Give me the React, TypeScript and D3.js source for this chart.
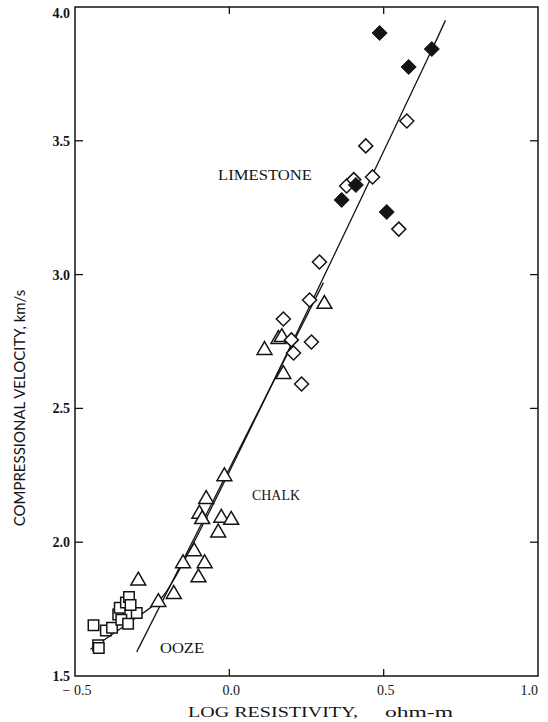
import { useRef, useEffect } from "react";
import * as d3 from "d3";

// ooze samples (open squares)
const oozeSquares: [number, number][] = [
  [-0.44, 1.69], [-0.425, 1.615], [-0.423, 1.605], [-0.40, 1.67], [-0.38, 1.68],
  [-0.36, 1.73], [-0.355, 1.755], [-0.35, 1.71], [-0.335, 1.775], [-0.325, 1.795],
  [-0.328, 1.695], [-0.30, 1.735], [-0.32, 1.765],
];

// chalk samples (open triangles)
const chalkTriangles: [number, number][] = [
  [-0.016, 2.25], [-0.075, 2.165], [-0.097, 2.11], [-0.088, 2.09], [-0.026, 2.095],
  [0.006, 2.087], [-0.036, 2.04], [-0.114, 1.97], [-0.15, 1.925], [-0.08, 1.925],
  [-0.10, 1.872], [-0.18, 1.81], [-0.23, 1.78], [-0.295, 1.86],
  [0.159, 2.763], [0.17, 2.77], [0.114, 2.722], [0.175, 2.632], [0.308, 2.894],
];

// limestone samples (open diamonds)
const limestoneOpen: [number, number][] = [
  [0.575, 3.574], [0.442, 3.481], [0.464, 3.365], [0.38, 3.331], [0.403, 3.355],
  [0.549, 3.17], [0.292, 3.047], [0.26, 2.905], [0.175, 2.834], [0.266, 2.748],
  [0.201, 2.756], [0.208, 2.707], [0.234, 2.591],
];

// limestone samples (filled diamonds)
const limestoneFilled: [number, number][] = [
  [0.487, 3.903], [0.656, 3.843], [0.581, 3.776], [0.364, 3.279], [0.41, 3.335], [0.51, 3.234],
];

// fitted trends
const chalkLine: [number, number][] = [[-0.30, 1.59], [0.305, 2.97]];
const overallLine: [number, number][] = [
  [-0.45, 1.60], [-0.33, 1.695], [-0.23, 1.78], [-0.18, 1.86], [0.656, 3.84], [0.70, 3.95],
];

const xTicks = [-0.5, 0.0, 0.5, 1.0];
const yTicks = [1.5, 2.0, 2.5, 3.0, 3.5, 4.0];

export default function App() {
  const ref = useRef<SVGSVGElement>(null);

  useEffect(() => {
    const width = 548;
    const height = 722;
    const ink = "#141414";

    const svg = d3.select(ref.current);
    svg.selectAll("*").remove();
    svg.attr("width", width).attr("height", height);

    const x = d3.scaleLinear().domain([-0.5, 1.0]).range([75, 538]);
    const y = d3.scaleLinear().domain([1.5, 4.0]).range([676, 7]);

    // ---- frame ----
    svg.append("rect")
      .attr("x", x(-0.5))
      .attr("y", y(4.0))
      .attr("width", x(1.0) - x(-0.5))
      .attr("height", y(1.5) - y(4.0))
      .attr("fill", "none")
      .attr("stroke", ink)
      .attr("stroke-width", 1.5);

    // ---- ticks (inward) ----
    const innerY = yTicks.filter((t) => t > 1.5 && t < 4.0);
    svg.append("g").selectAll("line").data(innerY).enter().append("line")
      .attr("x1", x(-0.5)).attr("x2", x(-0.5) + 8)
      .attr("y1", (d) => y(d)).attr("y2", (d) => y(d))
      .attr("stroke", ink).attr("stroke-width", 1.3);
    svg.append("g").selectAll("line").data(innerY).enter().append("line")
      .attr("x1", x(1.0)).attr("x2", x(1.0) - 8)
      .attr("y1", (d) => y(d)).attr("y2", (d) => y(d))
      .attr("stroke", ink).attr("stroke-width", 1.3);
    const innerX = xTicks.filter((t) => t > -0.5 && t < 1.0);
    svg.append("g").selectAll("line").data(innerX).enter().append("line")
      .attr("x1", (d) => x(d)).attr("x2", (d) => x(d))
      .attr("y1", y(1.5)).attr("y2", y(1.5) - 7)
      .attr("stroke", ink).attr("stroke-width", 1.3);
    svg.append("g").selectAll("line").data(innerX).enter().append("line")
      .attr("x1", (d) => x(d)).attr("x2", (d) => x(d))
      .attr("y1", y(4.0)).attr("y2", y(4.0) + 7)
      .attr("stroke", ink).attr("stroke-width", 1.3);

    // ---- tick labels ----
    const serif = "'Liberation Serif', 'DejaVu Serif', serif";
    svg.append("g").selectAll("text").data(yTicks).enter().append("text")
      .attr("x", x(-0.5) - 5)
      .attr("y", (d) => (d === 4.0 ? y(d) + 6 : y(d)))
      .attr("dy", "0.35em")
      .attr("text-anchor", "end")
      .attr("font-family", serif)
      .attr("font-size", 14)
      .attr("font-weight", "bold")
      .attr("fill", ink)
      .text((d) => d.toFixed(1));
    svg.append("g").selectAll("text").data(xTicks).enter().append("text")
      .attr("x", (d) => (d === 1.0 ? x(d) : x(d) + 2))
      .attr("y", y(1.5) + 19)
      .attr("text-anchor", (d) => (d === 1.0 ? "end" : "middle"))
      .attr("font-family", serif)
      .attr("font-size", 14)
      .attr("fill", ink)
      .text((d) => (d < 0 ? "\u2212 " + Math.abs(d).toFixed(1) : d.toFixed(1)));

    // ---- axis titles ----
    svg.append("text")
      .attr("x", 188)
      .attr("y", 717)
      .attr("font-family", serif)
      .attr("font-size", 15)
      .attr("textLength", 170)
      .attr("lengthAdjust", "spacingAndGlyphs")
      .attr("fill", ink)
      .text("LOG RESISTIVITY,");
    svg.append("text")
      .attr("x", 385)
      .attr("y", 717)
      .attr("font-family", serif)
      .attr("font-size", 15)
      .attr("textLength", 68)
      .attr("lengthAdjust", "spacingAndGlyphs")
      .attr("fill", ink)
      .text("ohm-m");

    svg.append("text")
      .attr("transform", `translate(25,${408}) rotate(-90)`)
      .attr("text-anchor", "middle")
      .attr("font-family", "Lato, 'Open Sans', sans-serif")
      .attr("font-size", 15)
      .attr("fill", ink)
      .text("COMPRESSIONAL VELOCITY, km/s");

    // ---- trend lines ----
    const line = d3.line<[number, number]>()
      .x((d) => x(d[0]))
      .y((d) => y(d[1]))
      .curve(d3.curveCatmullRom.alpha(0.5));
    svg.append("path").datum(chalkLine).attr("d", line)
      .attr("fill", "none").attr("stroke", ink).attr("stroke-width", 1.3);
    svg.append("path").datum(overallLine).attr("d", line)
      .attr("fill", "none").attr("stroke", ink).attr("stroke-width", 1.3);

    // ---- markers ----
    const sq = d3.symbol().type(d3.symbolSquare).size(110);
    svg.append("g").selectAll("path").data(oozeSquares).enter().append("path")
      .attr("transform", (d) => `translate(${x(d[0])},${y(d[1])})`)
      .attr("d", sq)
      .attr("fill", "#fff")
      .attr("stroke", ink)
      .attr("stroke-width", 1.5);

    const tri = (s: number) => `M0,${-s * 0.62}L${s * 0.62},${s * 0.45}L${-s * 0.62},${s * 0.45}Z`;
    svg.append("g").selectAll("path").data(chalkTriangles).enter().append("path")
      .attr("transform", (d) => `translate(${x(d[0])},${y(d[1])})`)
      .attr("d", tri(12))
      .attr("fill", "#fff")
      .attr("stroke", ink)
      .attr("stroke-width", 1.5);

    const dia = (r: number) => `M0,${-r}L${r},0L0,${r}L${-r},0Z`;
    svg.append("g").selectAll("path").data(limestoneOpen).enter().append("path")
      .attr("transform", (d) => `translate(${x(d[0])},${y(d[1])})`)
      .attr("d", dia(7))
      .attr("fill", "#fff")
      .attr("stroke", ink)
      .attr("stroke-width", 1.5);
    svg.append("g").selectAll("path").data(limestoneFilled).enter().append("path")
      .attr("transform", (d) => `translate(${x(d[0])},${y(d[1])})`)
      .attr("d", dia(7.5))
      .attr("fill", ink)
      .attr("stroke", ink)
      .attr("stroke-width", 1);

    // ---- region labels ----
    const labels: [string, number, number, number][] = [
      ["LIMESTONE", 218, 180, 94],
      ["CHALK", 252, 500, 48],
      ["OOZE", 160, 653, 44],
    ];
    svg.append("g").selectAll("text").data(labels).enter().append("text")
      .attr("x", (d) => d[1])
      .attr("y", (d) => d[2])
      .attr("font-family", serif)
      .attr("font-size", 14)
      .attr("textLength", (d) => d[3])
      .attr("lengthAdjust", "spacingAndGlyphs")
      .attr("fill", ink)
      .text((d) => d[0]);
  }, []);

  return (
    <div style={{ position: "absolute", left: 0, top: 0 }}>
      <svg ref={ref} />
    </div>
  );
}
